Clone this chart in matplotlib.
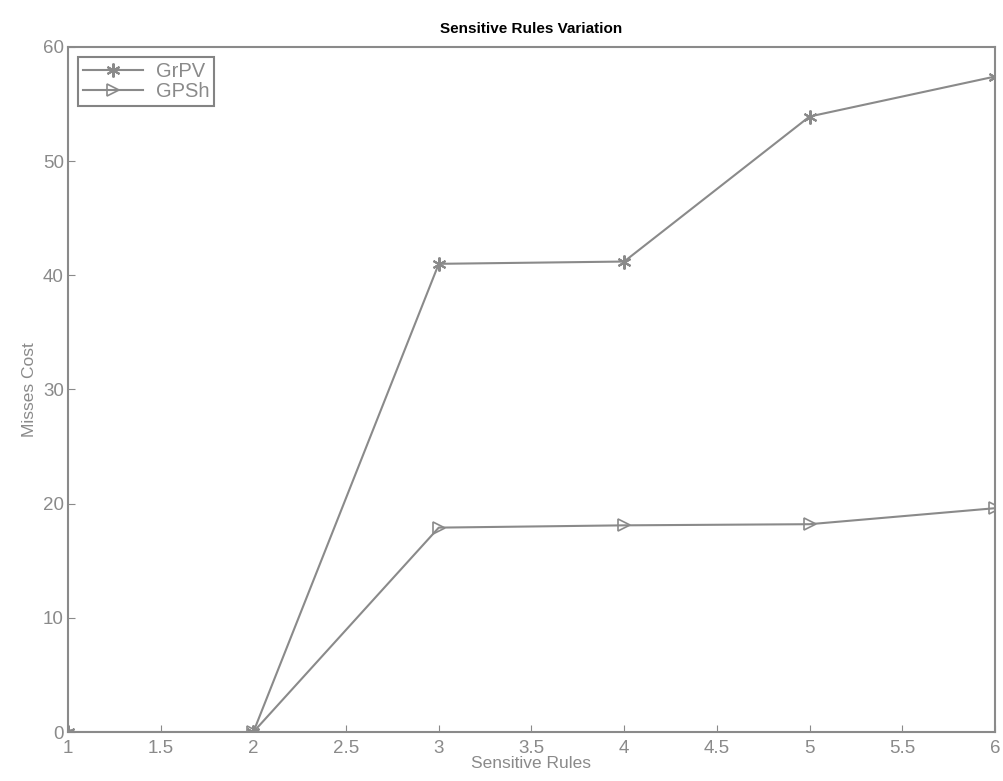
import matplotlib
matplotlib.use('Agg')
import matplotlib.pyplot as plt

# data
rules = [1, 2, 3, 4, 5, 6]
grpv = [0, 0, 41.0, 41.2, 53.9, 57.4]
gpsh = [0, 0, 17.9, 18.1, 18.2, 19.6]
xticks = [1, 1.5, 2, 2.5, 3, 3.5, 4, 4.5, 5, 5.5, 6]
yticks = [0, 10, 20, 30, 40, 50, 60]

plt.rcParams['font.family'] = ['Liberation Sans', 'DejaVu Sans']
gray = '#8a8a8a'

fig = plt.figure(figsize=(10.04, 7.81), dpi=100)
ax = fig.add_axes([0.0677, 0.0627, 0.9233, 0.8773])

# matlab-style asterisk marker for GrPV
ax.plot(rules, grpv, '-', marker=(6, 2, 0), color=gray, lw=1.5, ms=10, mew=1.5, label='GrPV')
ax.plot(rules, gpsh, '->', color=gray, lw=1.5, ms=8, mfc='none', mew=1.2, label='GPSh')

ax.set_xlim(1, 6)
ax.set_ylim(0, 60)
ax.set_xticks(xticks)
ax.set_xticklabels(['1', '1.5', '2', '2.5', '3', '3.5', '4', '4.5', '5', '5.5', '6'])
ax.set_yticks(yticks)
ax.tick_params(direction='in', length=5, color=gray, labelcolor=gray, labelsize=13.5, pad=6)
ax.tick_params(axis='y', pad=3)
for s in ax.spines.values():
    s.set_color(gray)
    s.set_linewidth(1.5)

ax.set_title('Sensitive Rules Variation', fontsize=11, fontweight='bold', color='black', pad=10)
ax.set_xlabel('Sensitive Rules', fontsize=12.5, color=gray, labelpad=-1)
ax.set_ylabel('Misses Cost', fontsize=12.5, color=gray, labelpad=4)

leg = ax.legend(loc='upper left', fontsize=14.5, frameon=True, fancybox=False,
                borderaxespad=0.5, handlelength=3.0, labelspacing=0.05,
                borderpad=0.25, handletextpad=0.6, labelcolor=gray)
leg.get_frame().set_edgecolor('#666666')
leg.get_frame().set_linewidth(1.5)

fig.savefig('out.png', dpi=100)
